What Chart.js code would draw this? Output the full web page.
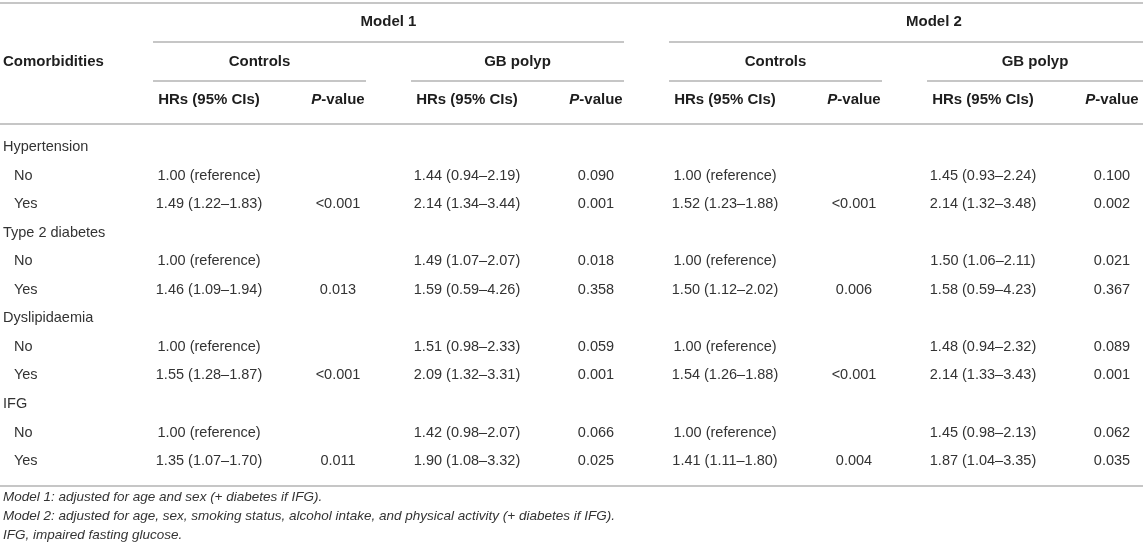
<!DOCTYPE html>
<html>
<head>
<meta charset="utf-8">
<script src="https://cdn.jsdelivr.net/npm/chart.js@4.4.1/dist/chart.umd.min.js"></script>
<style>
  html, body { margin: 0; padding: 0; background: #fff; }
  #wrap { width: 1143px; height: 553px; position: relative; }
</style>
</head>
<body>
<div id="wrap"><canvas id="tbl"></canvas></div>
<script>
// table content
const rowLabels = ['Hypertension', 'No', 'Yes', 'Type 2 diabetes', 'No', 'Yes', 'Dyslipidaemia', 'No', 'Yes', 'IFG', 'No', 'Yes'];
const rowIsGroup = [true, false, false, true, false, false, true, false, false, true, false, false];

const m1ControlsHR = ['', '1.00 (reference)', '1.49 (1.22–1.83)', '', '1.00 (reference)', '1.46 (1.09–1.94)', '', '1.00 (reference)', '1.55 (1.28–1.87)', '', '1.00 (reference)', '1.35 (1.07–1.70)'];
const m1ControlsP = ['', '', '<0.001', '', '', '0.013', '', '', '<0.001', '', '', '0.011'];
const m1PolypHR = ['', '1.44 (0.94–2.19)', '2.14 (1.34–3.44)', '', '1.49 (1.07–2.07)', '1.59 (0.59–4.26)', '', '1.51 (0.98–2.33)', '2.09 (1.32–3.31)', '', '1.42 (0.98–2.07)', '1.90 (1.08–3.32)'];
const m1PolypP = ['', '0.090', '0.001', '', '0.018', '0.358', '', '0.059', '0.001', '', '0.066', '0.025'];
const m2ControlsHR = ['', '1.00 (reference)', '1.52 (1.23–1.88)', '', '1.00 (reference)', '1.50 (1.12–2.02)', '', '1.00 (reference)', '1.54 (1.26–1.88)', '', '1.00 (reference)', '1.41 (1.11–1.80)'];
const m2ControlsP = ['', '', '<0.001', '', '', '0.006', '', '', '<0.001', '', '', '0.004'];
const m2PolypHR = ['', '1.45 (0.93–2.24)', '2.14 (1.32–3.48)', '', '1.50 (1.06–2.11)', '1.58 (0.59–4.23)', '', '1.48 (0.94–2.32)', '2.14 (1.33–3.43)', '', '1.45 (0.98–2.13)', '1.87 (1.04–3.35)'];
const m2PolypP = ['', '0.100', '0.002', '', '0.021', '0.367', '', '0.089', '0.001', '', '0.062', '0.035'];

const modelNames = ['Model 1', 'Model 2'];
const groupNames = ['Controls', 'GB polyp'];
const stubHeader = 'Comorbidities';
const hrHeader = 'HRs (95% CIs)';
const footnotes = [
  'Model 1: adjusted for age and sex (+ diabetes if IFG).',
  'Model 2: adjusted for age, sex, smoking status, alcohol intake, and physical activity (+ diabetes if IFG).',
  'IFG, impaired fasting glucose.'
];

const valueColumns = [m1ControlsHR, m1ControlsP, m1PolypHR, m1PolypP, m2ControlsHR, m2ControlsP, m2PolypHR, m2PolypP];

// layout (x in column units, y in pixels)
const X_MIN = -0.6202, X_MAX = 8.2403;
const LABEL_X = -0.597, INDENT_X = -0.512;
const HR_HALF = 0.434, P_HALF = 0.217;
const ROW_Y0 = 147, ROW_STEP = 28.55;
const rowY = (i) => ROW_Y0 + i * ROW_STEP;

const FONT = '"Liberation Sans", Arial, Helvetica, sans-serif';
const DATA_COLOR = '#333333';
const HEAD_COLOR = '#1e1e1e';
const RULE_COLOR = '#b3b3b3';

const datasets = [{
  label: 'rows',
  data: rowLabels.map((_, i) => ({ x: rowIsGroup[i] ? LABEL_X : INDENT_X, y: rowY(i) })),
  texts: rowLabels,
  align: 'left',
  pointRadius: 0
}];
valueColumns.forEach((col, c) => {
  datasets.push({
    label: 'col' + (c + 1),
    data: col.map((_, i) => ({ x: c + 1, y: rowY(i) })),
    texts: col,
    align: 'center',
    pointRadius: 0
  });
});

const tablePlugin = {
  id: 'tableText',
  afterDatasetsDraw(chart) {
    const ctx = chart.ctx;
    const xs = chart.scales.x, ys = chart.scales.y;
    const area = chart.chartArea;
    const px = (v) => xs.getPixelForValue(v);
    const py = (v) => ys.getPixelForValue(v);
    // span of a block of columns; the last block runs to the right edge
    const spanRight = (lastCol) => lastCol >= valueColumns.length ? area.right : px(lastCol + P_HALF);
    ctx.save();

    // rules
    ctx.strokeStyle = RULE_COLOR;
    ctx.lineWidth = 1.6;
    const rule = (x1, x2, y) => {
      ctx.beginPath();
      ctx.moveTo(x1, py(y));
      ctx.lineTo(x2, py(y));
      ctx.stroke();
    };
    rule(area.left, area.right, 3);
    rule(area.left, area.right, 124);
    rule(area.left, area.right, 486);
    modelNames.forEach((m, mi) => {
      const first = mi * 4 + 1;
      rule(px(first - HR_HALF), spanRight(first + 3), 42);
      groupNames.forEach((g, gi) => {
        const f = first + gi * 2;
        rule(px(f - HR_HALF), spanRight(f + 1), 81);
      });
    });

    // header text
    ctx.textBaseline = 'middle';
    ctx.fillStyle = HEAD_COLOR;
    ctx.font = 'bold 15px ' + FONT;
    ctx.textAlign = 'left';
    ctx.fillText(stubHeader, px(LABEL_X), py(62));
    ctx.textAlign = 'center';
    modelNames.forEach((m, mi) => {
      const first = mi * 4 + 1;
      ctx.font = 'bold 15px ' + FONT;
      ctx.fillText(m, (px(first - HR_HALF) + spanRight(first + 3)) / 2, py(22));
      groupNames.forEach((g, gi) => {
        const f = first + gi * 2;
        ctx.textAlign = 'center';
        ctx.font = 'bold 15px ' + FONT;
        ctx.fillText(g, (px(f - HR_HALF) + spanRight(f + 1)) / 2, py(62));
        ctx.fillText(hrHeader, px(f), py(100));
        // P-value with italic P
        const pItal = 'italic bold 15px ' + FONT, pBold = 'bold 15px ' + FONT;
        ctx.font = pItal;
        const w1 = ctx.measureText('P').width;
        ctx.font = pBold;
        const w2 = ctx.measureText('-value').width;
        const start = px(f + 1) - (w1 + w2) / 2;
        ctx.textAlign = 'left';
        ctx.font = pItal;
        ctx.fillText('P', start, py(100));
        ctx.font = pBold;
        ctx.fillText('-value', start + w1, py(100));
      });
    });

    // cells
    ctx.fillStyle = DATA_COLOR;
    ctx.font = '14.5px ' + FONT;
    chart.data.datasets.forEach((ds, di) => {
      const meta = chart.getDatasetMeta(di);
      ctx.textAlign = ds.align;
      meta.data.forEach((pt, i) => {
        if (ds.texts[i]) ctx.fillText(ds.texts[i], pt.x, pt.y);
      });
    });

    // footnotes
    ctx.font = 'italic 13.5px ' + FONT;
    ctx.textAlign = 'left';
    footnotes.forEach((f, i) => {
      ctx.fillText(f, px(LABEL_X), py(497 + i * 19));
    });
    ctx.restore();
  }
};

new Chart(document.getElementById('tbl'), {
  type: 'scatter',
  data: { datasets },
  options: {
    responsive: true,
    maintainAspectRatio: false,
    animation: false,
    layout: { padding: 0 },
    plugins: { legend: { display: false }, tooltip: { enabled: false } },
    scales: {
      x: { type: 'linear', min: X_MIN, max: X_MAX, display: false },
      y: { type: 'linear', min: 0, max: 553, reverse: true, display: false }
    }
  },
  plugins: [tablePlugin]
});
</script>
</body>
</html>
